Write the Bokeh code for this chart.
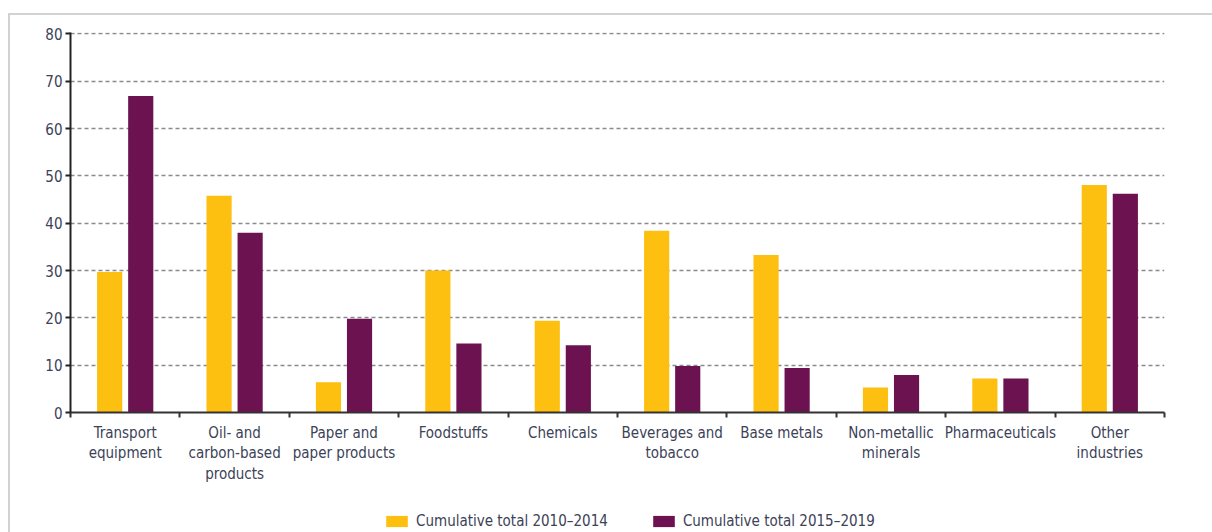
from bokeh.plotting import figure
from bokeh.models import Range1d, FixedTicker, Legend, LegendItem, ColumnDataSource
from bokeh.layouts import column
from bokeh.embed import file_html
from bokeh.resources import INLINE

categories = ["Transport\nequipment", "Oil- and\ncarbon-based\nproducts", "Paper and\npaper products",
              "Foodstuffs", "Chemicals", "Beverages and\ntobacco", "Base metals",
              "Non-metallic\nminerals", "Pharmaceuticals", "Other\nindustries"]
total_2010_2014 = [29.7, 45.8, 6.4, 30.0, 19.4, 38.4, 33.3, 5.3, 7.2, 48.1]
total_2015_2019 = [66.9, 38.0, 19.8, 14.6, 14.2, 9.8, 9.4, 7.9, 7.2, 46.2]
series_names = ["Cumulative total 2010\u20132014", "Cumulative total 2015\u20132019"]
y_ticks = [0, 10, 20, 30, 40, 50, 60, 70, 80]

FONT = "Liberation Sans Narrow, DejaVu Sans Condensed, sans-serif"
TXT = "#3c4258"
YELLOW = "#FDC010"
PURPLE = "#6C1250"

idx = list(range(len(categories)))
centers = [i + 0.5 for i in idx]
src = ColumnDataSource(dict(
    x1=[c - 0.142 for c in centers],
    x2=[c + 0.142 for c in centers],
    a=total_2010_2014,
    b=total_2015_2019,
))

p = figure(width=1204, height=480, output_backend="svg", toolbar_location=None,
           x_range=Range1d(0, len(categories)), y_range=Range1d(0, 80.3),
           min_border_left=60, min_border_right=50, min_border_top=17, min_border_bottom=83,
           title=None)
p.outline_line_color = None
p.background_fill_color = "white"

p.vbar(x="x1", top="a", width=0.23, source=src, fill_color=YELLOW, line_color=None)
p.vbar(x="x2", top="b", width=0.23, source=src, fill_color=PURPLE, line_color=None)

# x axis
xa = p.xaxis[0]
xa.ticker = FixedTicker(ticks=centers, minor_ticks=list(range(len(categories) + 1)))
xa.major_label_overrides = {c: lab for c, lab in zip(centers, categories)}
xa.major_tick_out = 0
xa.major_tick_in = 0
xa.minor_tick_out = 5
xa.minor_tick_in = 0
xa.minor_tick_line_color = "#333333"
xa.minor_tick_line_width = 2
xa.axis_line_color = "#333333"
xa.axis_line_width = 2
xa.major_label_text_font = FONT
xa.major_label_text_font_size = "15px"
xa.major_label_text_line_height = 1.15
xa.major_label_text_color = TXT
xa.major_label_standoff = 6
xa.major_label_orientation = "horizontal"

# y axis
ya = p.yaxis[0]
ya.ticker = FixedTicker(ticks=y_ticks)
ya.minor_tick_line_color = None
ya.major_tick_out = 5
ya.major_tick_in = 0
ya.major_tick_line_color = "#222222"
ya.major_tick_line_width = 2
ya.axis_line_color = "#222222"
ya.axis_line_width = 2
ya.major_label_text_font = FONT
ya.major_label_text_font_size = "15px"
ya.major_label_text_color = TXT
ya.major_label_standoff = 3

p.xgrid.grid_line_color = None
p.ygrid.ticker = FixedTicker(ticks=y_ticks[1:])
p.ygrid.grid_line_color = "#8a8a8a"
p.ygrid.grid_line_width = 1.5
p.ygrid.grid_line_dash = "4 3"

# legend strip below the chart (swatch renderers have zero height: only their legend glyphs show)
lg = figure(width=1204, height=37, output_backend="svg", toolbar_location=None,
            x_range=Range1d(0, 1), y_range=Range1d(0, 1), min_border=0,
            x_axis_location=None, y_axis_location=None, title=None)
lg.outline_line_color = None
lg.xgrid.visible = False
lg.ygrid.visible = False
s1 = lg.vbar(x=[0.5], top=[0], bottom=[0], width=0.01, fill_color=YELLOW, line_color=None)
s2 = lg.vbar(x=[0.5], top=[0], bottom=[0], width=0.01, fill_color=PURPLE, line_color=None)

legend = Legend(items=[LegendItem(label=series_names[0], renderers=[s1]),
                       LegendItem(label=series_names[1], renderers=[s2])],
                location=(313, 2), orientation="horizontal")
legend.glyph_width = 27
legend.glyph_height = 14
legend.label_standoff = 6
legend.label_height = 14
legend.spacing = 42
legend.padding = 0
legend.margin = 0
legend.border_line_color = None
legend.background_fill_alpha = 0
legend.label_text_font = FONT
legend.label_text_font_size = "15px"
legend.label_text_color = TXT
lg.add_layout(legend, "center")

layout = column(p, lg, spacing=0)
layout.margin = (13, 0, 0, 8)
layout.styles = {"border-top": "2px solid #d2d2d2", "border-left": "2px solid #d2d2d2"}

open("out.html", "w").write(file_html(layout, INLINE))
